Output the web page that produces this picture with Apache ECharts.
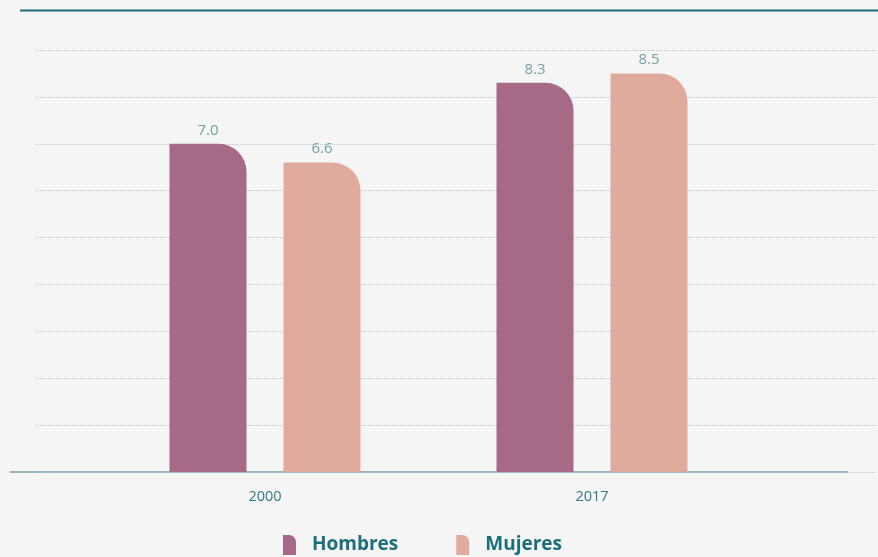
<!DOCTYPE html>
<html>
<head>
<meta charset="utf-8">
<script src="https://cdn.jsdelivr.net/npm/echarts@6/dist/echarts.min.js"></script>
<style>
  html, body { margin: 0; padding: 0; background: #f5f5f5; }
  #chart { width: 878px; height: 557px; }
</style>
</head>
<body>
<div id="chart"></div>
<script>
  // datos
  const years = ['2000', '2017']
  const hombres = [7.0, 8.3]
  const mujeres = [6.6, 8.5]
  const seriesNames = ['Hombres', 'Mujeres']

  const teal = '#1b6f7a'
  const iconPath = 'path://M0,0 H6 A7,7 0 0 1 13,7 V20 H0 Z'

  const chart = echarts.init(document.getElementById('chart'))
  const option = {
    backgroundColor: '#f5f5f5',
    textStyle: { fontFamily: '"Open Sans", sans-serif' },
    grid: [
      // rejilla de fondo (líneas punteadas)
      { left: 36, right: 3, top: 50, bottom: 85 },
      // barras
      { left: 101.5, right: 122.5, top: 50, bottom: 85 }
    ],
    xAxis: [
      { gridIndex: 0, type: 'category', data: years, show: false },
      {
        gridIndex: 1,
        type: 'category',
        data: years,
        axisLine: { show: false },
        axisTick: { show: false },
        axisLabel: { color: '#2f7d84', fontSize: 14.5, margin: 17 }
      }
    ],
    yAxis: [
      {
        gridIndex: 0, type: 'value', min: 0, max: 9, interval: 1,
        axisLabel: { show: false },
        axisLine: { show: false },
        axisTick: { show: false },
        splitLine: { lineStyle: { type: 'dotted', color: '#bcc6c9', width: 1 } }
      },
      {
        gridIndex: 1, type: 'value', min: 0, max: 9, interval: 1,
        show: false
      }
    ],
    legend: {
      data: seriesNames.map(n => ({ name: n, icon: iconPath })),
      bottom: -3,
      left: 278,
      itemWidth: 13,
      itemHeight: 20,
      itemGap: 58,
      textStyle: {
        color: teal, fontSize: 19, fontWeight: 'bold',
        fontFamily: '"Open Sans", sans-serif', padding: [6, 0, 0, 11]
      }
    },
    graphic: [
      {
        type: 'line', silent: true,
        shape: { x1: 20, y1: 10.5, x2: 878, y2: 10.5 },
        style: { stroke: teal, lineWidth: 2 }
      },
      {
        type: 'line', silent: true,
        shape: { x1: 10, y1: 472, x2: 848, y2: 472 },
        style: { stroke: '#6fa1a4', lineWidth: 1.5 }
      }
    ],
    series: [
      {
        name: seriesNames[0],
        type: 'bar',
        xAxisIndex: 1, yAxisIndex: 1,
        data: hombres,
        barWidth: 77,
        barGap: '48%',
        itemStyle: { color: '#a66a87', borderRadius: [0, 28, 0, 0] },
        label: {
          show: true, position: 'top', distance: 6,
          color: '#76a2a3', fontSize: 15,
          formatter: p => p.value.toFixed(1)
        }
      },
      {
        name: seriesNames[1],
        type: 'bar',
        xAxisIndex: 1, yAxisIndex: 1,
        data: mujeres,
        barWidth: 77,
        itemStyle: { color: '#e0ab9c', borderRadius: [0, 28, 0, 0] },
        label: {
          show: true, position: 'top', distance: 6,
          color: '#76a2a3', fontSize: 15,
          formatter: p => p.value.toFixed(1)
        }
      }
    ]
  }
  chart.setOption(option)
</script>
</body>
</html>
